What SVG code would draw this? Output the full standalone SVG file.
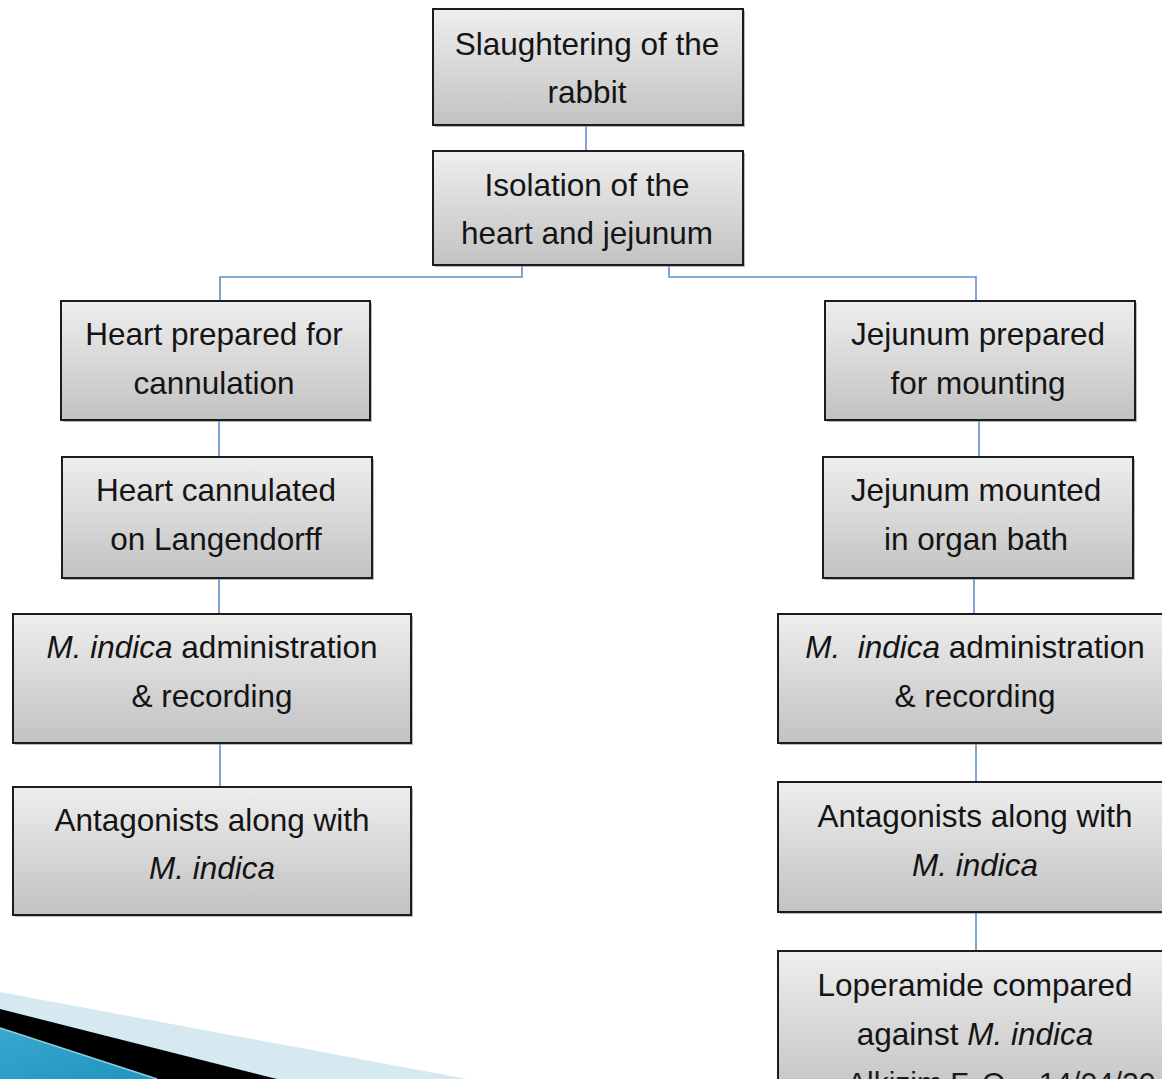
<svg xmlns="http://www.w3.org/2000/svg" width="1162" height="1079" viewBox="0 0 1162 1079">
<defs>
<linearGradient id="boxg" x1="0" y1="0" x2="0" y2="1">
<stop offset="0" stop-color="#eeeeee"/>
<stop offset="1" stop-color="#c2c2c2"/>
</linearGradient>
<linearGradient id="blueg" x1="0" y1="0" x2="1" y2="1">
<stop offset="0" stop-color="#3aa7d0"/>
<stop offset="1" stop-color="#1f95bd"/>
</linearGradient>
<style>
.box{fill:url(#boxg);stroke:#1c1c1c;stroke-width:2}
.sh{fill:#8a8a8a;opacity:0.6}
.t{font-family:"Liberation Sans",Arial,sans-serif;font-size:31.5px;fill:#141414;text-anchor:middle;white-space:pre}
.i{font-style:italic}
.c{fill:none;stroke:#5f8fcc;stroke-width:1.6}
</style>
</defs>
<rect width="1162" height="1079" fill="#ffffff"/>
<g id="decoration">
<polygon points="0,992 467,1079 0,1079" fill="#d6e9f1"/>
<polygon points="0,1009 277,1079 0,1079" fill="#000000"/>
<polygon points="0,1028 157,1079 0,1079" fill="url(#blueg)"/>
<line x1="0" y1="1028" x2="157" y2="1079" stroke="#8fd0e6" stroke-width="1.5"/>
</g>
<g id="connectors">
<line class="c" x1="586" y1="125" x2="586" y2="151"/>
<polyline class="c" points="522,265 522,277 220,277 220,301"/>
<polyline class="c" points="669,265 669,277 976,277 976,301"/>
<line class="c" x1="219" y1="420" x2="219" y2="457"/>
<line class="c" x1="219" y1="578" x2="219" y2="614"/>
<line class="c" x1="220" y1="743" x2="220" y2="787"/>
<line class="c" x1="979" y1="420" x2="979" y2="457"/>
<line class="c" x1="974" y1="578" x2="974" y2="614"/>
<line class="c" x1="976" y1="743" x2="976" y2="782"/>
<line class="c" x1="976" y1="912" x2="976" y2="951"/>
</g>
<g id="n1">
<rect class="sh" x="435" y="11" width="310" height="116"/>
<rect class="box" x="433" y="9" width="310" height="116"/>
<text class="t" x="587" y="55">Slaughtering of the</text>
<text class="t" x="587" y="103">rabbit</text>
</g>
<g id="n2">
<rect class="sh" x="435" y="153" width="310" height="114"/>
<rect class="box" x="433" y="151" width="310" height="114"/>
<text class="t" x="587" y="196">Isolation of the</text>
<text class="t" x="587" y="244">heart and jejunum</text>
</g>
<g id="n3">
<rect class="sh" x="63" y="303" width="309" height="119"/>
<rect class="box" x="61" y="301" width="309" height="119"/>
<text class="t" x="214" y="345">Heart prepared for</text>
<text class="t" x="214" y="394">cannulation</text>
</g>
<g id="n4">
<rect class="sh" x="64" y="459" width="310" height="121"/>
<rect class="box" x="62" y="457" width="310" height="121"/>
<text class="t" x="216" y="501">Heart cannulated</text>
<text class="t" x="216" y="550">on Langendorff</text>
</g>
<g id="n5">
<rect class="sh" x="15" y="616" width="398" height="129"/>
<rect class="box" x="13" y="614" width="398" height="129"/>
<text class="t" x="212" y="658"><tspan class="i">M. indica</tspan> administration</text>
<text class="t" x="212" y="707">&amp; recording</text>
</g>
<g id="n6">
<rect class="sh" x="15" y="789" width="398" height="128"/>
<rect class="box" x="13" y="787" width="398" height="128"/>
<text class="t" x="212" y="831">Antagonists along with</text>
<text class="t i" x="212" y="879">M. indica</text>
</g>
<g id="n7">
<rect class="sh" x="827" y="303" width="310" height="119"/>
<rect class="box" x="825" y="301" width="310" height="119"/>
<text class="t" x="978" y="345">Jejunum prepared</text>
<text class="t" x="978" y="394">for mounting</text>
</g>
<g id="n8">
<rect class="sh" x="825" y="459" width="310" height="121"/>
<rect class="box" x="823" y="457" width="310" height="121"/>
<text class="t" x="976" y="501">Jejunum mounted</text>
<text class="t" x="976" y="550">in organ bath</text>
</g>
<g id="n9">
<rect class="sh" x="780" y="616" width="400" height="129"/>
<rect class="box" x="778" y="614" width="400" height="129"/>
<text class="t" x="975" y="658"><tspan class="i">M.  indica</tspan> administration</text>
<text class="t" x="975" y="707">&amp; recording</text>
</g>
<g id="n10">
<rect class="sh" x="780" y="784" width="400" height="130"/>
<rect class="box" x="778" y="782" width="400" height="130"/>
<text class="t" x="975" y="827">Antagonists along with</text>
<text class="t i" x="975" y="876">M. indica</text>
</g>
<g id="n11">
<rect class="box" x="778" y="951" width="400" height="150"/>
<text class="t" x="975" y="996">Loperamide compared</text>
<text class="t" x="975" y="1045">against <tspan class="i">M. indica</tspan></text>
</g>
<g id="footer">
<text x="847" y="1093" font-family="'Liberation Sans',Arial,sans-serif" font-size="30" fill="#1a1a1a" style="white-space:pre">Alkizim F. O.   14/04/20</text>
</g>
</svg>
